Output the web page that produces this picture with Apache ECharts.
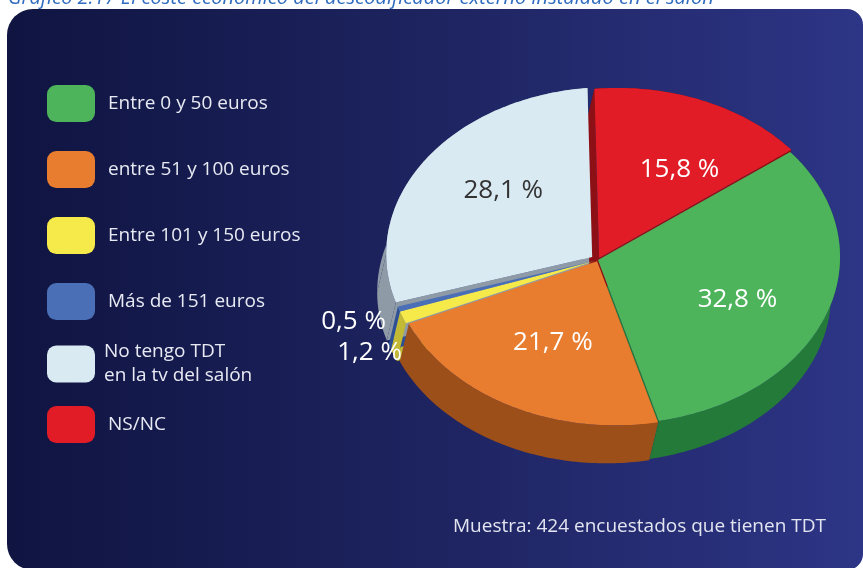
<!DOCTYPE html>
<html>
<head>
<meta charset="utf-8">
<script src="https://cdn.jsdelivr.net/npm/echarts@6/dist/echarts.min.js"></script>
<style>
  html, body { margin: 0; padding: 0; background: #ffffff; }
  #chart { width: 863px; height: 568px; }
</style>
</head>
<body>
<div id="chart"></div>
<script>
// Coste del descodificador externo instalado en el salón (% de encuestados)
const categories = [
  'Entre 0 y 50 euros',
  'entre 51 y 100 euros',
  'Entre 101 y 150 euros',
  'Más de 151 euros',
  'No tengo TDT\nen la tv del salón',
  'NS/NC'
];
const values = [32.8, 21.7, 1.2, 0.5, 28.1, 15.8];
const topColors = ['#4db45b', '#e97d2f', '#f6ea4a', '#4a6fb6', '#d9eaf2', '#e11c26'];
const sideColors = ['#247a39', '#9c4f19', '#c2b935', '#2d4f93', '#8e9ba7', '#8c1016'];
const labelColors = ['#ffffff', '#ffffff', '#ffffff', '#ffffff', '#333333', '#ffffff'];
const footnote = 'Muestra: 424 encuestados que tienen TDT';
const heading = 'Gráfico 2.17 El coste económico del descodificador externo instalado en el salón';

const FONT = '"Open Sans", "Noto Sans", sans-serif';

// geometry of the tilted pie (screen pixels); the body is extruded along (dx, depth),
// and the common apex of the slices sits slightly off the rim's centre (perspective)
const PIE = { cx: 616, cy: 257, rx: 224, ry: 167, depth: 38, dx: -9, start: 51, apexX: -18, apexY: 3 };
// how far each slice is pulled out from the centre, px
const EXPLODE = [0, 2, 4, 4, 7, 3];
// fine placement of the inner value labels, px
const LABEL_NUDGE = [[-7, 8], [1, -4], [0, 0], [0, 0], [1, -10], [11, 7]];

const total = values.reduce((a, b) => a + b, 0);
function fmt(v) { return v.toFixed(1).replace('.', ',') + ' %'; }

// angle measured clockwise from 12 o'clock, degrees
function pt(a, ox, oy, down) {
  const r = a * Math.PI / 180;
  const s = down ? 1 : 0;
  return [PIE.cx + ox + PIE.rx * Math.sin(r) + s * PIE.dx,
          PIE.cy + oy - PIE.ry * Math.cos(r) + s * PIE.depth];
}
function arc(a0, a1, ox, oy, down) {
  const pts = [];
  const n = Math.max(2, Math.ceil(Math.abs(a1 - a0)));
  for (let k = 0; k <= n; k++) pts.push(pt(a0 + (a1 - a0) * k / n, ox, oy, down));
  return pts;
}

function sliceAngles(i, v) {
  let before = 0;
  for (let k = 0; k < i; k++) before += values[k];
  const a0 = PIE.start + before / total * 360;
  return [a0, a0 + v / total * 360];
}

function wall(lo, hi, ox, oy, fill, z2) {
  return {
    type: 'polygon', z2: z2,
    shape: { points: arc(lo, hi, ox, oy, false).concat(arc(hi, lo, ox, oy, true)) },
    style: { fill: fill }
  };
}

function makeRender(i) {
  return function (params, api) {
    const v = api.value(0);
    const [a0, a1] = sliceAngles(i, v);
    const mid = (a0 + a1) / 2;
    const mr = mid * Math.PI / 180;
    const ex = EXPLODE[i];
    const ox = ex * Math.sin(mr);
    const oy = -ex * Math.cos(mr) * PIE.ry / PIE.rx;
    const c = [PIE.cx + PIE.apexX + ox, PIE.cy + PIE.apexY + oy];
    const cd = [c[0] + PIE.dx, c[1] + PIE.depth];
    const children = [];

    // radial cut faces
    [a0, a1].forEach(function (a) {
      children.push({
        type: 'polygon', z2: 2,
        shape: { points: [c, pt(a, ox, oy, false), pt(a, ox, oy, true), cd] },
        style: { fill: sideColors[i] }
      });
    });

    // outer wall: back half first, front half (90..270 deg) over it
    for (let k = -1; k <= 1; k++) {
      const lo = Math.max(a0, 90 + 360 * k);
      const hi = Math.min(a1, 270 + 360 * k);
      if (hi > lo) children.push(wall(lo, hi, ox, oy, sideColors[i], 3));
      const blo = Math.max(a0, -90 + 360 * k);
      const bhi = Math.min(a1, 90 + 360 * k);
      if (bhi > blo) children.push(wall(blo, bhi, ox, oy, sideColors[i], 1));
    }

    // top face
    children.push({
      type: 'polygon', z2: 10,
      shape: { points: [c].concat(arc(a0, a1, ox, oy, false)) },
      style: { fill: topColors[i] }
    });

    // value label
    let lx, ly, align = 'center';
    if (v >= 5) {
      lx = PIE.cx + 0.61 * PIE.rx * Math.sin(mr) + LABEL_NUDGE[i][0];
      ly = PIE.cy - 0.61 * PIE.ry * Math.cos(mr) + LABEL_NUDGE[i][1];
    } else {
      const edge = pt(mid, ox, oy, false);
      align = 'right';
      if (i === 2) { lx = edge[0] - 1; ly = edge[1] + 35; }
      else { lx = edge[0] - 13; ly = edge[1] + 13; }
    }
    children.push({
      type: 'text', z2: 50,
      style: {
        x: lx, y: ly, text: fmt(v),
        fill: labelColors[i], font: '26px ' + FONT,
        align: align, verticalAlign: 'middle'
      }
    });

    return { type: 'group', children: children };
  };
}

const series = categories.map(function (name, i) {
  return {
    type: 'custom',
    name: name,
    coordinateSystem: 'none',
    silent: true,
    itemStyle: { color: topColors[i] },
    data: [[values[i]]],
    renderItem: makeRender(i)
  };
});

const legendBase = {
  orient: 'vertical',
  left: 47,
  padding: 0,
  icon: 'roundRect',
  itemWidth: 48,
  itemHeight: 37,
  itemGap: 29,
  selectedMode: false,
  textStyle: { color: '#e8eaf3', fontSize: 19, fontFamily: FONT, padding: [4, 0, 0, 8] }
};

const chart = echarts.init(document.getElementById('chart'), null, { renderer: 'canvas' });
chart.setOption({
  animation: false,
  backgroundColor: '#ffffff',
  legend: [
    Object.assign({}, legendBase, { top: 85, data: categories.slice(0, 4) }),
    Object.assign({}, legendBase, {
      top: 339, data: [categories[4]],
      textStyle: Object.assign({}, legendBase.textStyle, { lineHeight: 24, padding: [2, 0, 0, 4] })
    }),
    Object.assign({}, legendBase, { top: 406, data: [categories[5]] })
  ],
  graphic: [
    {
      type: 'rect', z: -10, silent: true,
      shape: { x: 7, y: 9, width: 856, height: 561, r: [26, 16, 16, 26] },
      style: {
        fill: new echarts.graphic.LinearGradient(0, 0, 1, 0, [
          { offset: 0, color: '#0f1441' },
          { offset: 0.5, color: '#1e2460' },
          { offset: 1, color: '#2d3586' }
        ])
      }
    },
    {
      type: 'text', silent: true, left: 8, top: -12,
      style: { text: heading, fill: '#2f6cbf', font: 'italic 20px ' + FONT }
    },
    {
      type: 'text', silent: true, left: 453, top: 517,
      style: { text: footnote, fill: '#e2e5f0', font: '19px ' + FONT }
    }
  ],
  series: series
});
</script>
</body>
</html>
